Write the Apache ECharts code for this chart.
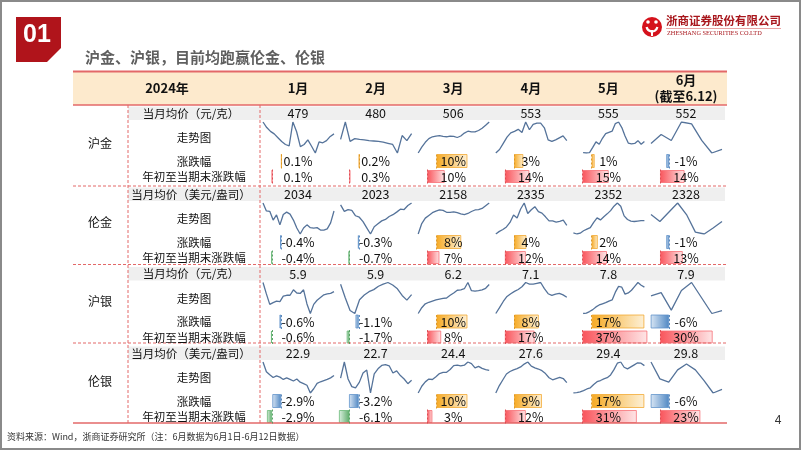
<!DOCTYPE html>
<html><head><meta charset="utf-8">
<script src="https://cdn.jsdelivr.net/npm/echarts@6/dist/echarts.min.js"></script>
<style>html,body{margin:0;padding:0;background:#fff}#c{width:802px;height:451px}</style>
</head><body><div id="c"></div>
<script>
// ---------- data ----------
const months = ['1月','2月','3月','4月','5月','6月'];
const monthSub = '(截至6.12)';
const yearLabel = '2024年';
const instruments = ['沪金','伦金','沪银','伦银'];
const priceRowLabels = ['当月均价（元/克）','当月均价（美元/盎司）','当月均价（元/克）','当月均价（美元/盎司）'];
const rowLabels = ['走势图','涨跌幅','年初至当期末涨跌幅'];

const priceHJ = [479, 480, 506, 553, 555, 552];
const priceLJ = [2034, 2023, 2158, 2335, 2352, 2328];
const priceHY = [5.9, 5.9, 6.2, 7.1, 7.8, 7.9];
const priceLY = [22.9, 22.7, 24.4, 27.6, 29.4, 29.8];

const chgHJ = [0.1, 0.2, 10, 3, 1, -1];
const chgLJ = [-0.4, -0.3, 8, 4, 2, -1];
const chgHY = [-0.6, -1.1, 10, 8, 17, -6];
const chgLY = [-2.9, -3.2, 10, 9, 17, -6];

const ytdHJ = [0.1, 0.3, 10, 14, 15, 14];
const ytdLJ = [-0.4, -0.7, 7, 12, 14, 13];
const ytdHY = [-0.6, -1.7, 8, 17, 37, 30];
const ytdLY = [-2.9, -6.1, 3, 12, 31, 23];

// sparkline shapes: relative levels read off each sparkline (no scale shown); null = no trading day
const trendHJ = [
 [88,75,66,60,51,42,35,32,88,65,30,35,46,31,15,41,39,44,54,60],
 [45,90,40,47,45,44,42,41,40,38,35,32,10,55,42,60],
 [8,24,37,47,52,54,55,53,52,54,53,50,54,62,67,65,65,69,75,83,92],
 [8,17,33,49,60,64,69,61,88,68,82,85,85,73,42,38,42,47,52,40],
 [null,null,null,10,9,10,23,37,31,46,58,61,64,83,87,73,52,34,32,33,40,31,38],
 [35,58,43,90,85,43,11,20]
];
const trendLJ = [
 [95,75,74,52,65,40,66,72,67,52,32,17,32,40,33,32,33,27,27,30,45,75],
 [95,77,82,80,65,61,49,32,15,35,43,51,55,63,68,75,83,82,93,100],
 [15,42,56,63,70,74,77,76,71,71,72,70,67,65,68,73,77,78,81,88,95],
 [15,22,27,34,46,66,58,82,98,70,80,88,75,71,61,50,50,47,49,52,38],
 [20,17,19,25,29,33,46,57,52,60,67,75,86,94,86,62,53,49,48,49,50,50],
 [60,45,65,85,60,22,18,31,45]
];
const trendHY = [
 [90,65,42,46,49,48,60,62,62,74,67,66,74,43,22,42,51,57,63,65,66,70],
 [85,52,22,15,48,59,67,72,80,85,89,83,74,58,47,60],
 [10,25,35,39,42,45,47,49,50,57,63,70,71,74,90,69,68,69,71,75,85],
 [10,25,41,54,61,67,72,79,90,86,86,88,90,74,61,57,60,62,58,52],
 [null,null,null,10,11,15,20,27,32,35,38,42,45,65,80,78,60,63,70,80,90,83,78],
 [55,63,21,68,87,50,13,20]
];
const trendLY = [
 [90,65,57,50,54,51,45,49,45,41,46,38,34,30,10,21,35,39,42,45,49,55],
 [50,88,48,30,27,40,62,69,15,60,72,80,82,79,62,67,56,48,37,45],
 [8,25,36,43,42,49,57,60,60,67,77,78,76,78,86,82,71,75,70,67,65],
 [10,28,42,56,62,66,69,73,80,85,75,71,68,64,57,47,42,45,48,45,35],
 [12,13,15,18,22,25,33,40,43,47,50,57,70,86,89,76,72,77,82,87,86,80],
 [90,47,39,70,85,70,42,11,20]
];

const titleText = '沪金、沪银，目前均跑赢伦金、伦银';
const sourceText = '资料来源：Wind，浙商证券研究所（注：6月数据为6月1日-6月12日数据）';
const pageNo = '4';

// ---------- layout ----------
const FONT = '"Noto Sans CJK SC","Microsoft YaHei",sans-serif';
const prices = [priceHJ, priceLJ, priceHY, priceLY];
const chgs = [chgHJ, chgLJ, chgHY, chgLY];
const ytds = [ytdHJ, ytdLJ, ytdHY, ytdLY];
const trends = [trendHJ, trendLJ, trendHY, trendLY];
const contentTop = [105, 186, 265.5, 345];
const catY = [143, 222, 301, 381];
const sepY = [186, 264.5, 343];
const TL = 73, TR = 727, BOT = 423;
const colL = c => 259 + 77.6 * c;
const colC = c => colL(c) + 39;
const RED = '#E36868';

const grad = (a, b) => new echarts.graphic.LinearGradient(0, 0, 1, 0, [{offset:0,color:a},{offset:1,color:b}]);
const barStyles = {
  chgPos: { c: grad('#F6AA24', '#FDF0D6'), b: 'rgba(242,166,42,0.75)', a: '#D99320' },
  chgNeg: { c: grad('#D9E6F4', '#4F87C3'), b: 'rgba(91,143,200,0.75)', a: '#4F7FB5' },
  ytdPos: { c: grad('#F9545B', '#FEE6E7'), b: 'rgba(247,106,112,0.75)', a: '#D9484E' },
  ytdNeg: { c: grad('#DDF1E2', '#5BAA68'), b: 'rgba(99,182,114,0.75)', a: '#4E9A5B' }
};

function txt(text, x, y, font, fill, align) {
  return { type:'text', x, y, z:100, silent:true,
    style:{ text, font, fill: fill || '#111', align: align || 'center', verticalAlign:'middle',
            textAlign: align || 'center', textVerticalAlign:'middle' } };
}
function line(x1, y1, x2, y2, color, w, dash) {
  return { type:'line', z:5, silent:true, shape:{x1,y1,x2,y2},
    style:{ stroke: color, lineWidth: w, lineDash: dash || null } };
}

const graphic = [];
// frame
graphic.push({ type:'rect', z:1, shape:{x:1,y:1,width:799,height:448}, style:{fill:'none', stroke:'#8a8a8a', lineWidth:2} });
// section box "01"
graphic.push({ type:'polygon', z:2, shape:{points:[[16,17],[61,17],[61,48],[47,62],[16,62]]}, style:{fill:'#B0141B'} });
graphic.push(txt('01', 37, 35, 'bold 25px "Liberation Sans",Arial,sans-serif', '#fff'));
graphic.push(txt(titleText, 85, 57, 'bold 15px ' + FONT, '#5f5f5f', 'left'));
// logo
graphic.push({ type:'circle', z:2, shape:{cx:652, cy:27, r:10}, style:{fill:'#D5121C'} });
graphic.push({ type:'arc', z:3, shape:{cx:652, cy:26, r:5.5, startAngle:0.2, endAngle:Math.PI-0.2}, style:{stroke:'#fff', lineWidth:2.2, fill:'none'} });
graphic.push({ type:'circle', z:3, shape:{cx:648, cy:22, r:1.8}, style:{fill:'#fff'} });
graphic.push({ type:'circle', z:3, shape:{cx:656, cy:22, r:1.8}, style:{fill:'#fff'} });
graphic.push({ type:'rect', z:3, shape:{x:651, y:30, width:2, height:6}, style:{fill:'#fff'} });
graphic.push(txt('浙商证券股份有限公司', 666, 21, 'bold 11.5px ' + FONT, '#A8161C', 'left'));
graphic.push(line(666, 28.5, 781, 28.5, '#E9A3A3', 1));
graphic.push(txt('ZHESHANG SECURITIES CO.LTD', 667, 33.5, '6.3px "Liberation Serif",serif', '#A8161C', 'left'));

// header band
graphic.push({ type:'rect', z:0, shape:{x:TL, y:72, width:TR-TL, height:33}, style:{fill:'#FDEACD'} });
graphic.push(line(TL, 71.5, TR, 71.5, RED, 2));
graphic.push(line(TL, 105, TR, 105, RED, 1.5));
graphic.push(txt(yearLabel, 167, 88, 'bold 13px ' + FONT));
months.forEach((m, c) => {
  if (c < 5) graphic.push(txt(m, colC(c), 88, 'bold 13px ' + FONT));
  else {
    graphic.push(txt(m, colC(c), 80, 'bold 13px ' + FONT));
    graphic.push(txt(monthSub, colC(c), 96.5, 'bold 13px ' + FONT));
  }
});

// grey price bands, separators
contentTop.forEach(ct => {
  graphic.push({ type:'rect', z:0, shape:{x:128, y:ct+1.5, width:597, height:13.5}, style:{fill:'#EFEFEF'} });
});
sepY.forEach(y => graphic.push(line(TL, y, TR, y, RED, 1, [3,2])));
graphic.push(line(128, 105, 128, BOT, RED, 1, [3,2]));
graphic.push(line(260, 105, 260, BOT, RED, 1, [3,2]));
graphic.push(line(TL, BOT, TR, BOT, RED, 1.5));

// texts
const LF = '11.5px ' + FONT, VF = '12.5px ' + FONT;
instruments.forEach((name, g) => {
  const ct = contentTop[g];
  graphic.push(txt(name, 100, catY[g], '12px ' + FONT));
  graphic.push(txt(priceRowLabels[g], 191, ct + 8.5, LF));
  graphic.push(txt(rowLabels[0], 194, ct + 33, LF));
  graphic.push(txt(rowLabels[1], 194, ct + 56.5, LF));
  graphic.push(txt(rowLabels[2], 194, ct + 72, LF));
  for (let c = 0; c < 6; c++) {
    graphic.push(txt(String(prices[g][c]), colC(c), ct + 8.5, VF));
    graphic.push(txt(String(chgs[g][c]) + '%', colC(c), ct + 56.5, VF));
    graphic.push(txt(String(ytds[g][c]) + '%', colC(c), ct + 72, VF));
  }
});
graphic.push(txt(sourceText, 7, 437, '9px ' + FONT, '#333', 'left'));
graphic.push(txt(pageNo, 778, 421, '12px "Liberation Sans",Arial,sans-serif', '#333'));

// ---------- grids / series ----------
const grid = [], xAxis = [], yAxis = [], series = [];
function addBar(left, top, width, height, v, range, pos, neg) {
  const gi = grid.length;
  grid.push({ left, top, width, height, containLabel:false });
  xAxis.push({ gridIndex:gi, type:'value', min:range[0], max:range[1], show:false });
  yAxis.push({ gridIndex:gi, type:'category', data:['v'], show:false });
  const st = v >= 0 ? pos : neg;
  series.push({ type:'bar', xAxisIndex:gi, yAxisIndex:gi, barWidth:height - 1, silent:true,
    data:[{ value:v, itemStyle:{ color:st.c, borderColor:st.b, borderWidth:1 } }],
    markLine:{ silent:true, symbol:'none', animation:false, label:{show:false},
      lineStyle:{ type:[2,2], color:st.a, width:1, opacity:0.9 }, data:[{ xAxis:0 }] } });
}
instruments.forEach((_, g) => {
  const ct = contentTop[g];
  for (let c = 0; c < 6; c++) {
    const L = colL(c);
    const gi = grid.length;
    grid.push({ left:L + 4, top:ct + 17, width:71, height:31, containLabel:false });
    xAxis.push({ gridIndex:gi, type:'category', boundaryGap:false, show:false, data:trends[g][c].map((_, i) => i) });
    yAxis.push({ gridIndex:gi, type:'value', show:false, scale:true, min:'dataMin', max:'dataMax' });
    series.push({ type:'line', xAxisIndex:gi, yAxisIndex:gi, data:trends[g][c], symbol:'none', showSymbol:false,
      silent:true, lineStyle:{ color:'#55739A', width:1.3 } });
    addBar(L + 3, ct + 48.5, 72, 15, chgs[g][c], [-6.2, 17], barStyles.chgPos, barStyles.chgNeg);
    addBar(L + 2, ct + 64.5, 76, 14, ytds[g][c], [-6.25, 37], barStyles.ytdPos, barStyles.ytdNeg);
  }
});

const chart = echarts.init(document.getElementById('c'), null, { renderer:'canvas' });
chart.setOption({
  animation:false,
  backgroundColor:'#fff',
  grid, xAxis, yAxis, series, graphic
});
</script>
</body></html>
